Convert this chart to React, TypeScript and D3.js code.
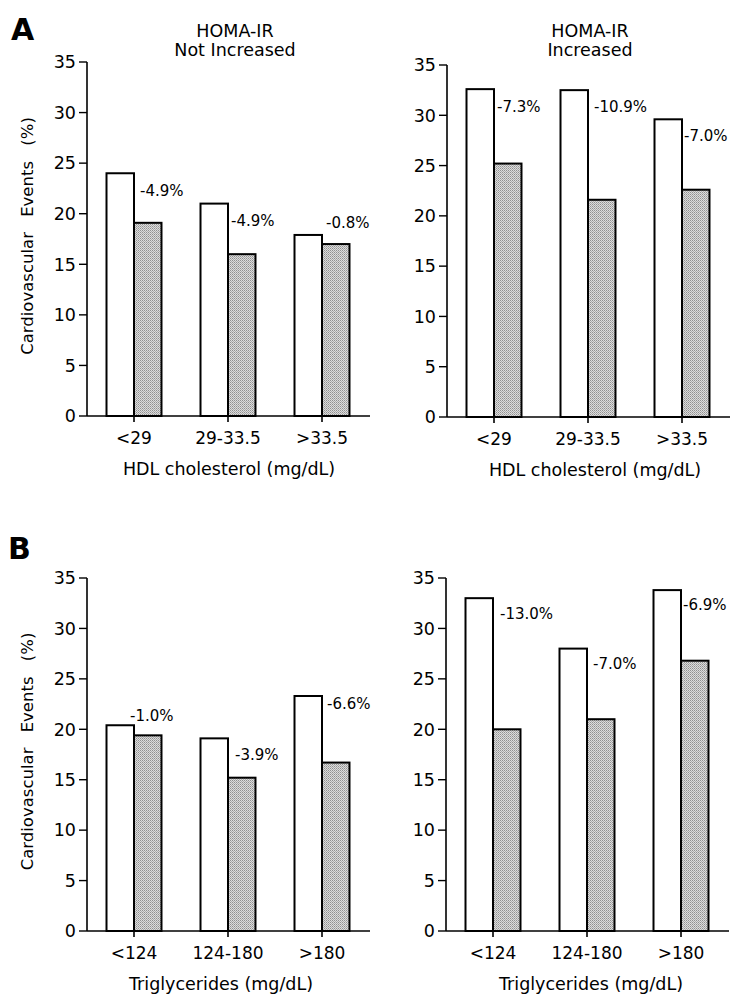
import * as d3 from "d3";

// categories
const hdlGroups = ["<29", "29-33.5", ">33.5"];
const tgGroups = ["<124", "124-180", ">180"];

// HDL, HOMA-IR not increased
const hdlNotIncOpen = [24.0, 21.0, 17.9];
const hdlNotIncShaded = [19.1, 16.0, 17.0];
const hdlNotIncLabels = ["-4.9%", "-4.9%", "-0.8%"];

// HDL, HOMA-IR increased
const hdlIncOpen = [32.6, 32.5, 29.6];
const hdlIncShaded = [25.2, 21.6, 22.6];
const hdlIncLabels = ["-7.3%", "-10.9%", "-7.0%"];

// triglycerides, HOMA-IR not increased
const tgNotIncOpen = [20.4, 19.1, 23.3];
const tgNotIncShaded = [19.4, 15.2, 16.7];
const tgNotIncLabels = ["-1.0%", "-3.9%", "-6.6%"];

// triglycerides, HOMA-IR increased
const tgIncOpen = [33.0, 28.0, 33.8];
const tgIncShaded = [20.0, 21.0, 26.8];
const tgIncLabels = ["-13.0%", "-7.0%", "-6.9%"];

const yTicks = [0, 5, 10, 15, 20, 25, 30, 35];

const FONT = "'DejaVu Sans', Arial, sans-serif";
const W = 734;
const H = 994;
const axisW = 283;

type PanelProps = {
  x0: number;
  yTop: number;
  yBottom: number;
  groups: string[];
  open: number[];
  shaded: number[];
  labels: string[];
  labelShift: [number, number][];
  xTitle: string;
  titleDx: number;
  title?: string[];
  titleX?: number;
  yTitle?: boolean;
};

function Panel(p: PanelProps) {
  const y = d3.scaleLinear().domain([0, 35]).range([p.yBottom, p.yTop]);
  const x = d3
    .scaleBand()
    .domain(p.groups)
    .range([p.x0, p.x0 + 282])
    .paddingInner(0.415)
    .paddingOuter(0.2075);
  const inner = d3.scaleBand().domain(["open", "shaded"]).range([0, x.bandwidth()]);
  const bw = inner.bandwidth();
  const midY = (p.yTop + p.yBottom) / 2;

  return (
    <g fontFamily={FONT} fill="#000">
      {p.title && (
        <text x={p.titleX} y={37} textAnchor="middle" fontSize={17.5}>
          <tspan x={p.titleX}>{p.title[0]}</tspan>
          <tspan x={p.titleX} dy={18.5}>{p.title[1]}</tspan>
        </text>
      )}
      {p.yTitle && (
        <text
          transform={`translate(33, ${midY - 3}) rotate(-90)`}
          textAnchor="middle"
          fontSize={16.5}
          wordSpacing={10}
        >
          Cardiovascular Events (%)
        </text>
      )}

      {/* bars */}
      {p.groups.map((g, i) => {
        const gx = x(g) as number;
        return (
          <g key={g}>
            <rect
              x={gx + (inner("shaded") as number)}
              y={y(p.shaded[i])}
              width={bw}
              height={y(0) - y(p.shaded[i])}
              fill="url(#stipple)"
              stroke="#000"
              strokeWidth={2}
            />
            <rect
              x={gx + (inner("open") as number)}
              y={y(p.open[i])}
              width={bw}
              height={y(0) - y(p.open[i])}
              fill="#fff"
              stroke="#000"
              strokeWidth={2}
            />
            <text
              x={gx + bw + p.labelShift[i][0]}
              y={y(p.open[i]) + p.labelShift[i][1] + 5.5}
              fontSize={15}
            >
              {p.labels[i]}
            </text>
          </g>
        );
      })}

      {/* y axis */}
      <line x1={p.x0} x2={p.x0} y1={y(0)} y2={y(35)} stroke="#000" strokeWidth={1.6} />
      {yTicks.map((t) => (
        <g key={t}>
          <line x1={p.x0 - 8} x2={p.x0} y1={y(t)} y2={y(t)} stroke="#000" strokeWidth={1.4} />
          <text x={p.x0 - 11} y={y(t)} dy="0.36em" textAnchor="end" fontSize={17.5}>
            {t}
          </text>
        </g>
      ))}

      {/* x axis */}
      <line x1={p.x0} x2={p.x0 + axisW} y1={y(0)} y2={y(0)} stroke="#000" strokeWidth={1.6} />
      {p.groups.map((g) => {
        const cx = (x(g) as number) + x.bandwidth() / 2;
        return (
          <g key={g}>
            <line x1={cx} x2={cx} y1={y(0)} y2={y(0) + 6} stroke="#000" strokeWidth={1.6} />
            <text x={cx} y={y(0) + 28} textAnchor="middle" fontSize={17}>
              {g}
            </text>
          </g>
        );
      })}
      <text
        x={p.x0 + 141 + p.titleDx}
        y={y(0) + 59}
        textAnchor="middle"
        fontSize={17.5}
      >
        {p.xTitle}
      </text>
    </g>
  );
}

export default function App() {
  return (
    <svg
      width={W}
      height={H}
      viewBox={`0 0 ${W} ${H}`}
      style={{ position: "absolute", left: 0, top: 0, background: "#fff" }}
    >
      <defs>
        <pattern id="stipple" width={2} height={2} patternUnits="userSpaceOnUse">
          <rect width={2} height={2} fill="#dcdcdc" />
          <rect width={1} height={1} fill="#909090" />
          <rect x={1} y={1} width={1} height={1} fill="#acacac" />
        </pattern>
      </defs>
      <rect width={W} height={H} fill="#fff" />

      <text x={11} y={40} fontFamily={FONT} fontWeight="bold" fontSize={30}>
        A
      </text>
      <text x={8} y={559} fontFamily={FONT} fontWeight="bold" fontSize={30}>
        B
      </text>

      <Panel
        x0={87}
        yTop={62}
        yBottom={416}
        groups={hdlGroups}
        open={hdlNotIncOpen}
        shaded={hdlNotIncShaded}
        labels={hdlNotIncLabels}
        labelShift={[[6, 17], [3, 17], [4, -12]]}
        xTitle="HDL cholesterol (mg/dL)"
        titleDx={1}
        title={["HOMA-IR", "Not Increased"]}
        titleX={235}
        yTitle
      />
      <Panel
        x0={447}
        yTop={65}
        yBottom={417}
        groups={hdlGroups}
        open={hdlIncOpen}
        shaded={hdlIncShaded}
        labels={hdlIncLabels}
        labelShift={[[3, 17], [6, 16], [2, 16]]}
        xTitle="HDL cholesterol (mg/dL)"
        titleDx={7}
        title={["HOMA-IR", "Increased"]}
        titleX={590}
      />
      <Panel
        x0={87}
        yTop={578}
        yBottom={931}
        groups={tgGroups}
        open={tgNotIncOpen}
        shaded={tgNotIncShaded}
        labels={tgNotIncLabels}
        labelShift={[[-4, -10], [7, 16], [5, 7]]}
        xTitle="Triglycerides (mg/dL)"
        titleDx={-7}
        yTitle
      />
      <Panel
        x0={446}
        yTop={578}
        yBottom={931}
        groups={tgGroups}
        open={tgIncOpen}
        shaded={tgIncShaded}
        labels={tgIncLabels}
        labelShift={[[7, 15], [6, 15], [2, 14]]}
        xTitle="Triglycerides (mg/dL)"
        titleDx={4}
      />
    </svg>
  );
}
